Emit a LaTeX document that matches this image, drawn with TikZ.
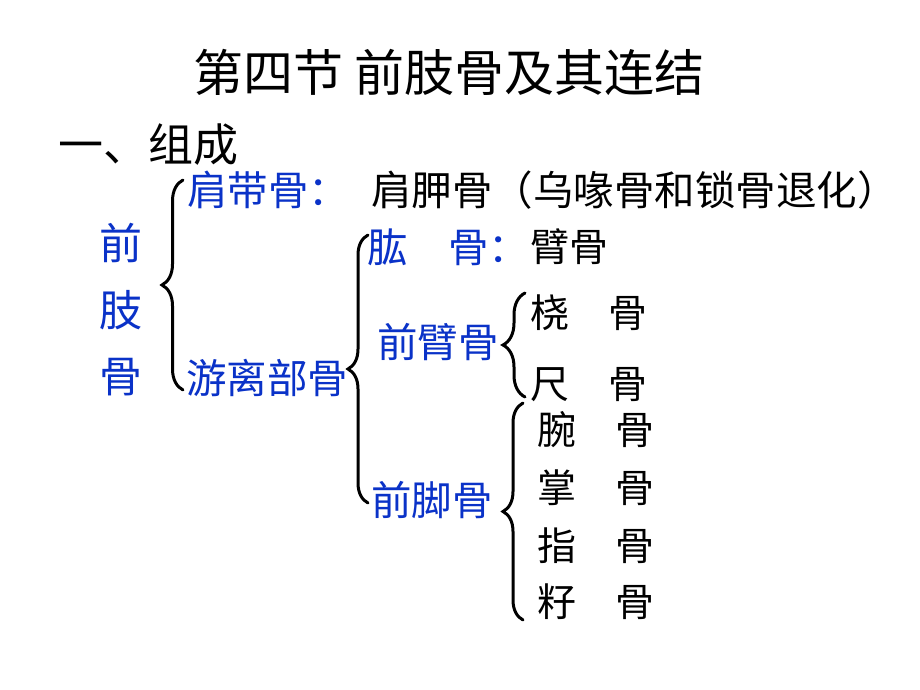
\documentclass[tikz,border=0pt]{standalone}
\usepackage{fontspec}
\setmainfont{Noto Sans CJK SC}
\usetikzlibrary{decorations.pathreplacing}
\definecolor{lblue}{RGB}{10,50,200}
\begin{document}
\begin{tikzpicture}[x=1pt,y=-1pt,
  every node/.style={inner sep=0pt, outer sep=0pt, anchor=west},
  titletext/.style={font=\fontsize{50}{50}\selectfont, anchor=center},
  headtext/.style={font=\fontsize{45}{45}\selectfont},
  bluetext/.style={text=lblue, font=\fontsize{40.5}{40.5}\selectfont},
  blacktext/.style={text=black, font=\fontsize{39}{39}\selectfont},
  widetext/.style={text=black, font=\fontsize{40.5}{40.5}\selectfont},
  verttext/.style={text=lblue, font=\fontsize{43}{43}\selectfont, anchor=center},
  bracestyle/.style={decorate, decoration={brace, amplitude=#1}, line width=3pt, line cap=round}]
\useasboundingbox (0,0) rectangle (920,690);
\fill[white] (0,0) rectangle (920,690);

\node[titletext] (title) at (449,72) {第四节 前肢骨及其连结};
\node[headtext] (sec) at (58,145) {一、组成};

\node[verttext] (v1) at (121,243) {前};
\node[verttext] (v2) at (121,310) {肢};
\node[verttext] (v3) at (121,377) {骨};

\coordinate (b1t) at (183,180);
\coordinate (b1b) at (183,390);
\draw[bracestyle=21] (b1b) -- (b1t);

\node[bluetext] (jdg) at (187,190) {肩带骨：};
\node[widetext] (jjg) at (371,190) {肩胛骨（乌喙骨和锁骨退化）};
\node[bluetext] (ylbg) at (186,378) {游离部骨};

\coordinate (b2t) at (368,235);
\coordinate (b2b) at (368,503);
\draw[bracestyle=20] (b2b) -- (b2t);

\node[bluetext] (hg) at (367,247) {肱　骨：};
\node[blacktext] (bg) at (530,247) {臂骨};
\node[bluetext] (qbg) at (377,342) {前臂骨};

\coordinate (b3t) at (525,293);
\coordinate (b3b) at (525,397);
\draw[bracestyle=22] (b3b) -- (b3t);

\node[blacktext] (rg) at (530,313) {桡　骨};
\node[blacktext] (cg) at (530,385) {尺　骨};

\node[bluetext] (qjg) at (371,500) {前脚骨};

\coordinate (b4t) at (523,403);
\coordinate (b4b) at (523,620);
\draw[bracestyle=20] (b4b) -- (b4t);

\node[blacktext] (wg) at (537,430) {腕　骨};
\node[blacktext] (zg) at (537,488) {掌　骨};
\node[blacktext] (fg) at (537,546) {指　骨};
\node[blacktext] (sg) at (537,602) {籽　骨};
\end{tikzpicture}
\end{document}
